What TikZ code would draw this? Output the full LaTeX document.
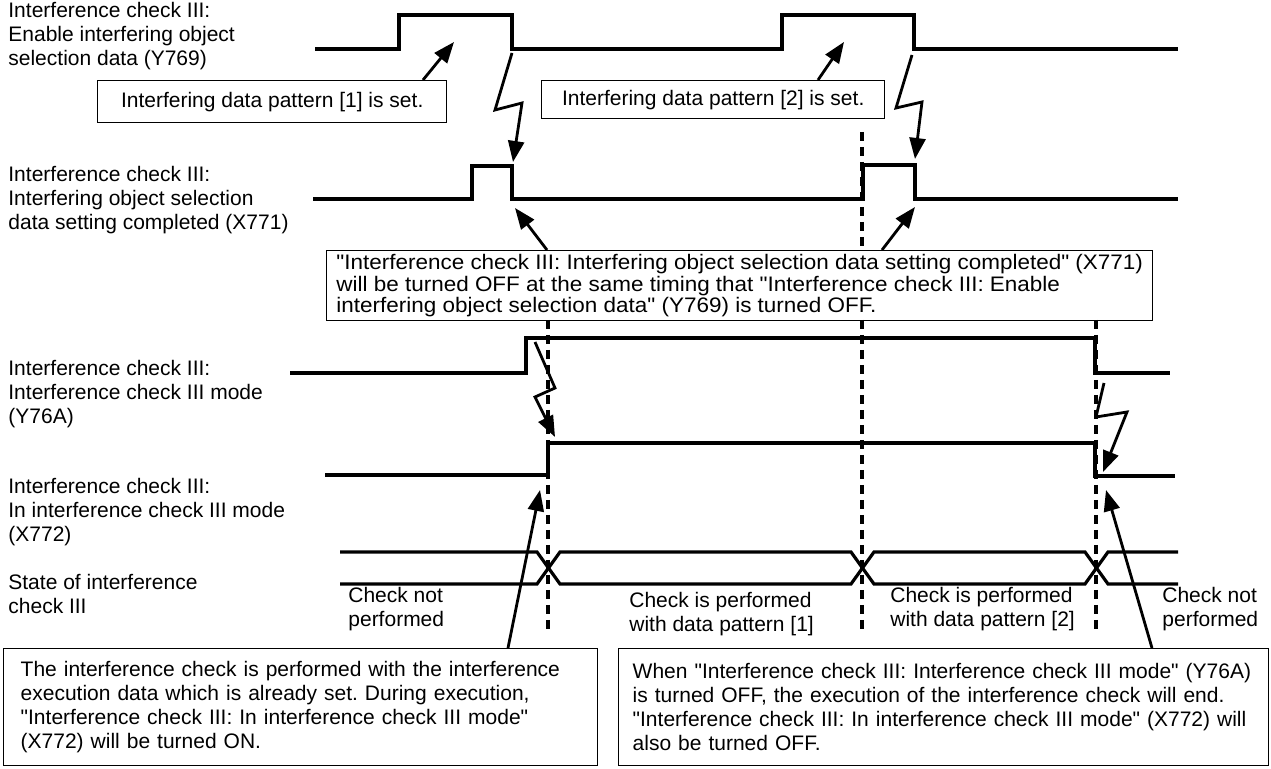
\documentclass[tikz,border=0pt]{standalone}
\usepackage{fontspec}
\setmainfont{Liberation Sans}
\newfontfamily\plainsans{Liberation Sans}[Ligatures=TeXOff]
\newfontfamily\widesans{Liberation Sans}[Ligatures=TeXOff, FakeStretch=1.07]
\usetikzlibrary{arrows.meta, positioning, calc}
\frenchspacing

\begin{document}
\begin{tikzpicture}[
    x=0.5pt, y=-0.5pt,
    signal/.style={line width=1.6pt, line join=miter},
    guide/.style={line width=1.6pt, dash pattern=on 4.5pt off 3pt},
    pointer/.style={-{Triangle[length=10.5pt, width=8pt]}, line width=1.4pt},
    sigtext/.style={anchor=west, align=left, inner sep=0pt,
                    font=\plainsans\fontsize{10.5}{12}\selectfont},
    note/.style={draw, line width=0.7pt, anchor=north west,
                 font=\plainsans\fontsize{10.5}{12}\selectfont},
    state/.style={anchor=west, align=left, inner sep=0pt,
                  font=\plainsans\fontsize{10.5}{12}\selectfont}
  ]
    \useasboundingbox (0,0) rectangle (1271,769);

    % Signal names
    \node[sigtext] (lblY769) at (8,36)
      {Interference check III:\\Enable interfering object\\selection data (Y769)};
    \node[sigtext] (lblX771) at (8,200)
      {Interference check III:\\Interfering object selection\\data setting completed (X771)};
    \node[sigtext] (lblY76A) at (8,394)
      {Interference check III:\\Interference check III mode\\(Y76A)};
    \node[sigtext] (lblX772) at (8,512)
      {Interference check III:\\In interference check III mode\\(X772)};
    \node[sigtext] (lblstate) at (8,594)
      {State of interference\\check III};

    % Guide lines
    \draw[guide] (862,132) -- (862,250);
    \draw[guide] (548,320) -- (548,631);
    \draw[guide] (862,320) -- (862,631);
    \draw[guide] (1096,320) -- (1096,631);

    % Waveforms
    \draw[signal] (315,49) -- (399,49) -- (399,15) -- (512,15) -- (512,49)
      -- (782,49) -- (782,15) -- (914,15) -- (914,49) -- (1178,49);
    \draw[signal] (313,199) -- (472,199) -- (472,166) -- (512,166) -- (512,199)
      -- (863,199) -- (863,165) -- (915,165) -- (915,199) -- (1178,199);
    \draw[signal] (290,373) -- (526,373) -- (526,338) -- (1095,338) -- (1095,373)
      -- (1170,373);
    \draw[signal] (325,475) -- (548,475) -- (548,443) -- (1095,443) -- (1095,476)
      -- (1175,476);
    \draw[signal] (340,552) -- (537,552) -- (560,584) -- (851,584) -- (874,552)
      -- (1085,552) -- (1108,584) -- (1178,584);
    \draw[signal] (340,584) -- (537,584) -- (560,552) -- (851,552) -- (874,584)
      -- (1085,584) -- (1108,552) -- (1178,552);

    % Timing links
    \coordinate (zzAfrom) at (512,53);
    \coordinate (zzAto) at (513,162);
    \coordinate (zzBfrom) at (912,55);
    \coordinate (zzBto) at (915,159);
    \coordinate (zzCfrom) at (535,342);
    \coordinate (zzCto) at (555,437);
    \coordinate (zzDfrom) at (1104,383);
    \coordinate (zzDto) at (1103,472);
    \draw[pointer] (zzAfrom) -- (495,110) -- (522,103) -- (zzAto);
    \draw[pointer] (zzBfrom) -- (896,108) -- (922,102) -- (zzBto);
    \draw[pointer] (zzCfrom) -- (555,388) -- (535,397) -- (zzCto);
    \draw[pointer] (zzDfrom) -- (1096,417) -- (1127,412) -- (zzDto);

    % Notes
    \node[note, minimum width=174.5pt, minimum height=21pt, inner sep=0pt] (set1) at (97,80)
      {Interfering data pattern [1] is set.};
    \node[note, minimum width=171.5pt, minimum height=19pt, inner sep=0pt] (set2) at (541,80)
      {Interfering data pattern [2] is set.};
    \node[note, minimum width=413pt, minimum height=35pt, inner sep=0pt, align=left,
          font=\widesans\fontsize{10.5}{10.75}\selectfont] (offnote) at (326,250)
      {"Interference check III: Interfering object selection data setting completed" (X771)\\
       will be turned OFF at the same timing that "Interference check III: Enable\\
       interfering object selection data" (Y769) is turned OFF.};
    \node[note, minimum height=58.5pt, text width=280pt, inner xsep=8.5pt, inner ysep=0pt,
          align=left] (onnote) at (3,648)
      {The interference check is performed with the interference\\
       execution data which is already set. During execution,\\
       "Interference check III: In interference check III mode"\\
       (X772) will be turned ON.};
    \node[note, minimum height=58.5pt, text width=311pt, inner xsep=7pt, inner ysep=0pt,
          align=left] (endnote) at (618,648)
      {When "Interference check III: Interference check III mode" (Y76A)\\
       is turned OFF, the execution of the interference check will end.\\
       "Interference check III: In interference check III mode" (X772) will\\
       also be turned OFF.};

    \coordinate (set1foot) at (423,80);
    \coordinate (set2foot) at (818,80);
    \coordinate (offfootA) at (547,250);
    \coordinate (offfootB) at (882,250);
    \coordinate (onfoot) at (508,648);
    \coordinate (endfoot) at (1152,648);
    \draw[pointer] (set1foot) -- (454,42);
    \draw[pointer] (set2foot) -- (844,42);
    \draw[pointer] (offfootA) -- (515,208);
    \draw[pointer] (offfootB) -- (915,207);
    \draw[pointer] (onfoot) -- (540,490);
    \draw[pointer] (endfoot) -- (1106,490);

    % State labels
    \node[state] (idle1) at (348,609) {Check not\\performed};
    \node[state] (run1) at (629,614) {Check is performed\\with data pattern [1]};
    \node[state] (run2) at (890,609) {Check is performed\\with data pattern [2]};
    \node[state] (idle2) at (1162,609) {Check not\\performed};
  \end{tikzpicture}
\end{document}
